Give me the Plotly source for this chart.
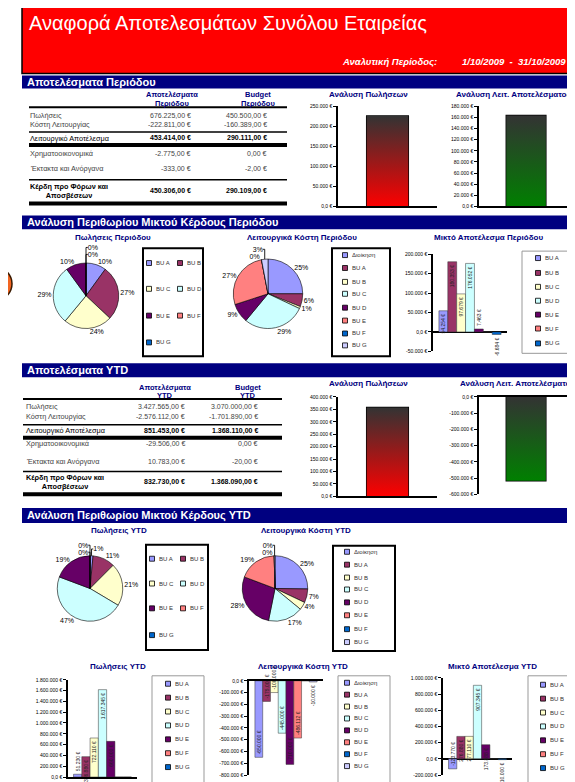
import plotly.graph_objects as go

# The page body adds an 8px margin; lay out in window pixels and compensate.
OFF = 8
W, H = 575 - OFF, 782 - OFF


def X(px):
    return (px - OFF) / W


def Y(py):
    return 1 - (py - OFF) / H


# ---------------- data ----------------
BU = ["BU A", "BU B", "BU C", "BU D", "BU E", "BU F", "BU G"]
COST_CATS = ["Διοίκηση"] + BU
ROW_LABELS = ["Πωλήσεις", "Κόστη Λειτουργίας", "Λειτουργικό Αποτέλεσμα",
              "Χρηματοοικονομικά", "Έκτακτα και Ανόργανα",
              "Κέρδη προ Φόρων και<br>Αποσβέσεων"]

period_actual = [676225, -222811, 453414, -2775, -333, 450306]
period_budget = [450500, -160389, 290111, 0, -2, 290109]
ytd_actual = [3427565, -2576112, 851453, -29506, 10783, 832730]
ytd_budget = [3070000, -1701890, 1368110, 0, -20, 1368090]

period_sales_var = [225725]
period_op_var = [163303]
ytd_sales_var = [357565]
ytd_op_var = [-516657]

sales_period_bu = [67623, 182581, 162294, 196105, 67622, 0, 0]
costs_period = [-55703, -13369, -2228, -64615, -20053, -60159, 0, -6684]
margin_period_bu = [54254, 180353, 97679, 176052, 7463, 0, -6684]

sales_ytd_bu = [51230, 376880, 722110, 1617345, 660000, 0, 0]
costs_ytd = [-650000, -175000, -100000, -445000, -710000, -486112, 0, -10000]
margin_ytd_bu = [-123770, 276880, 277110, 907345, 173888, 0, -10000]

# ---------------- styles ----------------
BU_COLORS = ["#9999FF", "#993366", "#FFFFCC", "#CCFFFF", "#660066", "#FF8080", "#0066CC"]
COST_COLORS = ["#9999FF", "#993366", "#FFFFCC", "#CCFFFF", "#660066", "#FF8080", "#0066CC", "#CCCCFF"]
NAVY = "#000080"
FONT = "Liberation Sans, Arial, sans-serif"


def num(v, dec=0):
    s = f"{abs(v):,.{dec}f}".replace(",", "X").replace(".", ",").replace("X", ".")
    return ("-" if v < 0 else "") + s


def money(v):
    return num(v, 2) + " €"


def tick_label(v):
    return "0,0 €" if v == 0 else num(v) + " €"


fig = go.Figure()

# ---------------- axes ----------------
AXES = {
    1: dict(x=(338, 437), y=(104, 205), yr=(0, 250000), step=50000, xr=(-0.5, 0.5), side="bottom"),
    2: dict(x=(479, 575), y=(104, 205), yr=(0, 180000), step=20000, xr=(-0.5, 0.52), side="bottom"),
    3: dict(x=(433, 507), y=(253, 351), yr=(-50000, 200000), step=50000, xr=(-0.5, 0.5), side="zero"),
    4: dict(x=(338, 437), y=(397, 497), yr=(0, 400000), step=50000, xr=(-0.5, 0.5), side="bottom"),
    5: dict(x=(479, 575), y=(397, 495), yr=(-600000, 0), step=100000, xr=(-0.5, 0.52), side="top"),
    6: dict(x=(68, 137), y=(682, 780), yr=(0, 1800000), step=200000, xr=(-0.5, 0.5), side="bottom"),
    7: dict(x=(249, 323), y=(683, 778), yr=(-800000, 0), step=100000, xr=(-0.5, 0.5), side="top"),
    8: dict(x=(443, 512), y=(680, 778), yr=(-200000, 1000000), step=200000, xr=(-0.5, 0.5), side="zero"),
}

layout_axes = {}
for n, a in AXES.items():
    xs = "xaxis" if n == 1 else f"xaxis{n}"
    ys = "yaxis" if n == 1 else f"yaxis{n}"
    tv = list(range(a["yr"][0], a["yr"][1] + 1, a["step"]))
    layout_axes[xs] = dict(
        domain=[X(a["x"][0]), min(1.0, X(a["x"][1]))], range=list(a["xr"]),
        anchor=("y" if n == 1 else f"y{n}"),
        showline=a["side"] != "zero", linecolor="black", linewidth=1.5,
        side="top" if a["side"] == "top" else "bottom",
        showticklabels=False, ticks="", showgrid=False, zeroline=False, fixedrange=True)
    layout_axes[ys] = dict(
        domain=[Y(a["y"][1]), Y(a["y"][0])], range=list(a["yr"]), anchor=("x" if n == 1 else f"x{n}"),
        showline=True, linecolor="black", linewidth=1.5, ticks="outside", ticklen=3,
        tickwidth=1, tickcolor="black", tickvals=tv, ticktext=[tick_label(v) for v in tv],
        tickfont=dict(size=5, color="black", family=FONT), showgrid=False,
        zeroline=a["side"] == "zero", zerolinecolor="black", zerolinewidth=1.5, fixedrange=True)


def ax(n):
    return ("x" if n == 1 else f"x{n}"), ("y" if n == 1 else f"y{n}")


# ---------------- gradient single bars ----------------
BAR_W = 0.42


def gradient_bar(n, values, base):
    xa, ya = ax(n)
    v = values[0]
    fig.add_trace(go.Scatter(
        x=[-BAR_W / 2, -BAR_W / 2, BAR_W / 2, BAR_W / 2, -BAR_W / 2], y=[0, v, v, 0, 0],
        mode="lines", line=dict(width=0), fill="toself",
        fillgradient=dict(type="vertical", colorscale=[[0, base], [1, "#333333"]],
                          start=min(0, v), stop=max(0, v)),
        xaxis=xa, yaxis=ya, hoverinfo="skip", showlegend=False))
    fig.add_trace(go.Bar(
        x=[0], y=values, width=BAR_W, marker=dict(color="rgba(0,0,0,0)", line=dict(color="black", width=1.5)),
        text=[num(v) + " €" for v in values], textposition="inside", insidetextanchor="end",
        textangle=-90, textfont=dict(size=6, color="black", family=FONT), constraintext="none",
        cliponaxis=False, xaxis=xa, yaxis=ya, showlegend=False, hoverinfo="skip"))


gradient_bar(1, period_sales_var, "#FF0000")
gradient_bar(2, period_op_var, "#008000")
gradient_bar(4, ytd_sales_var, "#FF0000")
gradient_bar(5, ytd_op_var, "#008000")


# ---------------- grouped bars ----------------
def grouped(n, names, values, colors):
    xa, ya = ax(n)
    for name, v, c in zip(names, values, colors):
        fig.add_trace(go.Bar(
            x=[0], y=[v], name=name, marker=dict(color=c, line=dict(color="#333333", width=0.5)),
            text=[num(v) + " €" if v != 0 else ""], textposition="auto", textangle=-90,
            textfont=dict(size=5, color="#222222", family=FONT), constraintext="none",
            cliponaxis=False, xaxis=xa, yaxis=ya, showlegend=False, hoverinfo="skip"))


grouped(3, BU, margin_period_bu, BU_COLORS)
grouped(6, BU, sales_ytd_bu, BU_COLORS)
grouped(7, COST_CATS, costs_ytd, COST_COLORS)
grouped(8, BU, margin_ytd_bu, BU_COLORS)


# ---------------- pies ----------------
def pie(labels, values, colors, cx, cy, r):
    fig.add_trace(go.Pie(
        labels=labels, values=values, sort=False, direction="clockwise", rotation=0,
        marker=dict(colors=colors, line=dict(color="#000000", width=0.6)),
        textposition="outside", texttemplate="%{percent:.0%}",
        textfont=dict(size=7, color="black", family=FONT),
        domain=dict(x=[X(cx - r), X(cx + r)], y=[Y(cy + r), Y(cy - r)]),
        showlegend=False, hoverinfo="skip"))


pie(BU, sales_period_bu, BU_COLORS, 86, 295, 33)
pie(COST_CATS, [-v for v in costs_period], COST_COLORS, 268, 293, 35)
pie(BU, sales_ytd_bu, BU_COLORS, 90, 590, 33)
pie(COST_CATS, [-v for v in costs_ytd], COST_COLORS, 275, 590, 33)

# ---------------- shapes & annotations ----------------
shapes = []
annos = []


def rect(x0, y0, x1, y1, fill=None, lc=None, lw=0):
    shapes.append(dict(type="rect", xref="paper", yref="paper", x0=X(x0), x1=X(x1), y0=Y(y1), y1=Y(y0),
                       fillcolor=fill if fill else "rgba(0,0,0,0)",
                       line=dict(color=lc if lc else "rgba(0,0,0,0)", width=lw)))


def hline(x0, x1, y, lw, color="black"):
    shapes.append(dict(type="line", xref="paper", yref="paper", x0=X(x0), x1=X(x1), y0=Y(y), y1=Y(y),
                       line=dict(color=color, width=lw)))


def text(x, y, s, size=7, color="black", xanchor="left", bold=False, italic=False):
    if bold:
        s = f"<b>{s}</b>"
    if italic:
        s = f"<i>{s}</i>"
    annos.append(dict(xref="paper", yref="paper", x=X(x), y=Y(y), text=s, showarrow=False,
                      xanchor=xanchor, yanchor="middle", font=dict(size=size, color=color, family=FONT)))


# orange marker at left edge
shapes.append(dict(type="circle", xref="paper", yref="paper", x0=X(-22), x1=X(12), y0=Y(300), y1=Y(266),
                   fillcolor="#F26522", line=dict(color="#3a1a00", width=1.5)))

# header
rect(22, 3, 580, 71, fill="#FF0000", lc="black", lw=1.5)
text(27, 20, "Αναφορά Αποτελεσμάτων Συνόλου Εταιρείας", size=20, color="white")
text(340, 59, "Αναλυτική Περίοδος:", size=9.5, color="white", bold=True, italic=True)
text(460, 59, "1/10/2009  -  31/10/2009", size=9.5, color="white", bold=True, italic=True)

# section bands
for y0, y1, s in [(73, 86, "Αποτελέσματα Περιόδου"),
                  (214, 228, "Ανάλυση Περιθωρίου Μικτού Κέρδους Περιόδου"),
                  (363, 377, "Αποτελέσματα YTD"),
                  (509, 524, "Ανάλυση Περιθωρίου Μικτού Κέρδους YTD")]:
    rect(22, y0, 580, y1, fill=NAVY)
    text(25, (y0 + y1) / 2, s, size=11, color="white", bold=True)


# tables
def table(actual, budget, hdr1, hdr2, x0, x1, c1, c2, h1, h2, ys, lines, lab_x):
    text(h1, ys["h"][0], "Αποτελέσματα", size=7.5, color=NAVY, xanchor="center", bold=True)
    text(h1, ys["h"][1], hdr1, size=7.5, color=NAVY, xanchor="center", bold=True)
    text(h2, ys["h"][0], "Budget", size=7.5, color=NAVY, xanchor="center", bold=True)
    text(h2, ys["h"][1], hdr2, size=7.5, color=NAVY, xanchor="center", bold=True)
    for i, (lab, a, b) in enumerate(zip(ROW_LABELS, actual, budget)):
        bold = i in (2, 5)
        col = "black" if bold else "#444444"
        y = ys["rows"][i]
        text(lab_x, y, lab, size=7.3, color=col, bold=bold and i == 5)
        text(c1, y, money(a), size=7, color=col, xanchor="right", bold=bold)
        text(c2, y, money(b), size=7, color=col, xanchor="right", bold=bold)
    for y, lw in lines:
        hline(x0, x1, y, lw)


table(period_actual, period_budget, "Περιόδου", "Περιόδου", 29, 287, 193, 269, 172, 258,
      dict(h=(92, 101), rows=[113, 122, 136, 152, 167, 189]),
      [(105, 2), (130, 1.5), (143, 4), (178, 1.5), (202, 4)], 28)
table(ytd_actual, ytd_budget, "YTD", "YTD", 23, 282, 187, 260, 165, 248,
      dict(h=(387, 396), rows=[407, 417, 431, 444, 462, 483]),
      [(399, 2), (425, 1.5), (438, 4), (472, 1.5), (495, 4)], 24)

# chart titles
for x, y, s in [(368, 92, "Ανάλυση Πωλήσεων"), (513, 92, "Ανάλυση Λειτ. Αποτελέσματος"),
                (113, 236, "Πωλήσεις Περιόδου"), (302, 236, "Λειτουργικά Κόστη Περιόδου"),
                (488, 236, "Μικτό Αποτέλεσμα Περιόδου"),
                (368, 383, "Ανάλυση Πωλήσεων"), (517, 383, "Ανάλυση Λειτ. Αποτελέσματος"),
                (119, 532, "Πωλήσεις YTD"), (306, 532, "Λειτουργικά Κόστη YTD"),
                (118, 669, "Πωλήσεις YTD"), (303, 669, "Λειτουργικά Κόστη YTD"),
                (492, 669, "Μικτό Αποτέλεσμα YTD")]:
    text(x, y, s, size=8, color=NAVY, xanchor="center", bold=True)


# manual legends
def legend(labels, colors, pos, box, lw, lc):
    rect(*box, lc=lc, lw=lw)
    for lab, c, (mx, my) in zip(labels, colors, pos):
        rect(mx - 2.5, my - 2.5, mx + 2.5, my + 2.5, fill=c, lc="black", lw=0.8)
        text(mx + 4.5, my, lab, size=6, color="#333333")


def grid2(cols, rows):
    return [(cols[i % 2], rows[i // 2]) for i in range(7)]


legend(BU, BU_COLORS, grid2([149, 180], [262, 288, 315, 342]), (143, 247, 203, 356), 2, "black")
legend(COST_CATS, COST_COLORS, [(345, y) for y in [254, 267, 281, 293, 307, 320, 333, 345]],
       (332, 247, 390, 356), 2, "black")
legend(BU, BU_COLORS, [(538, y) for y in [257, 272, 286, 300, 314, 328, 343]],
       (522, 250, 580, 353), 1, "#999999")
legend(BU, BU_COLORS, grid2([152, 183], [560, 585, 610, 637]), (146, 546, 208, 652), 2, "black")
legend(COST_CATS, COST_COLORS, [(347, y) for y in [553, 566, 579, 591, 604, 617, 631, 644]],
       (333, 547, 395, 653), 2, "black")
legend(BU, BU_COLORS, [(168, y) for y in [686, 700, 714, 728, 742, 756, 770]],
       (152, 678, 204, 790), 1, "#999999")
legend(COST_CATS, COST_COLORS, [(347, y) for y in [685, 697, 709, 721, 733, 745, 757, 769]],
       (338, 678, 390, 790), 1, "#999999")
legend(BU, BU_COLORS, [(543, y) for y in [687, 701, 715, 729, 743, 757, 771]],
       (528, 678, 580, 790), 1, "#999999")

fig.update_layout(
    width=W, height=H, margin=dict(l=0, r=0, t=0, b=0), autosize=False,
    paper_bgcolor="white", plot_bgcolor="rgba(0,0,0,0)",
    font=dict(family=FONT, size=7, color="black"),
    barmode="group", bargap=0.16, bargroupgap=0, showlegend=False,
    shapes=shapes, annotations=annos, **layout_axes)

fig.write_html("out.html")
